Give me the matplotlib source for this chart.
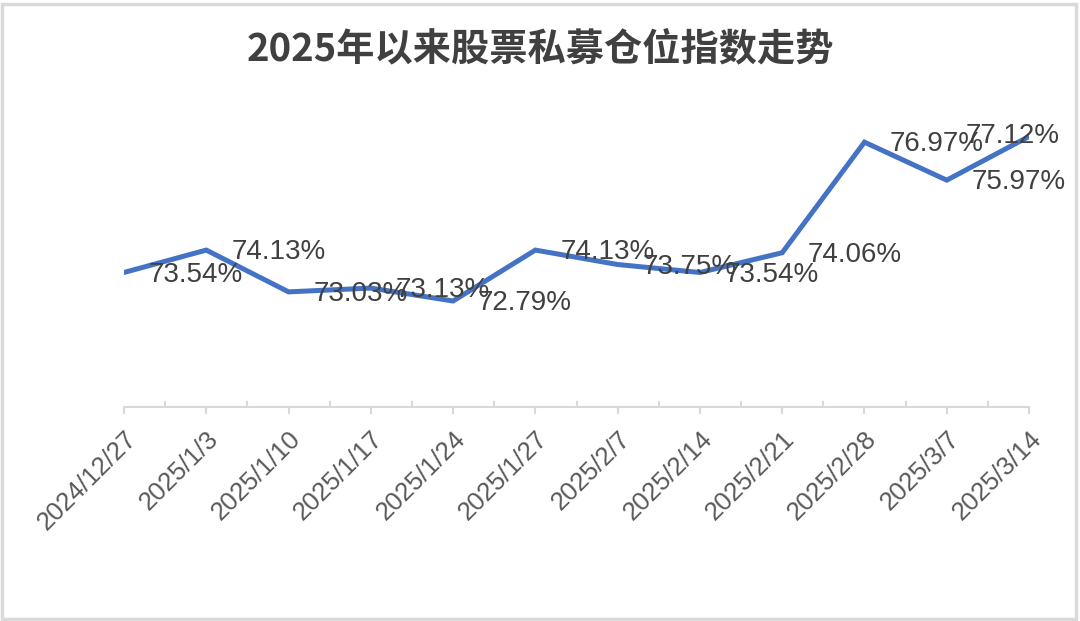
import matplotlib
matplotlib.use("Agg")
import matplotlib.pyplot as plt
from matplotlib.patches import Rectangle
from matplotlib.ticker import FixedLocator

plt.rcParams['font.family'] = ['Liberation Sans', 'Noto Sans CJK SC', 'DejaVu Sans']

dates = ["2024/12/27", "2025/1/3", "2025/1/10", "2025/1/17", "2025/1/24", "2025/1/27",
         "2025/2/7", "2025/2/14", "2025/2/21", "2025/2/28", "2025/3/7", "2025/3/14"]
position = [73.54, 74.13, 73.03, 73.13, 72.79, 74.13, 73.75, 73.54, 74.06, 76.97, 75.97, 77.12]
title = "2025年以来股票私募仓位指数走势"

fig = plt.figure(figsize=(10.8, 6.21), dpi=100)
ax = fig.add_axes([0.1148, 0.3446, 0.8380, 0.4895])

x = list(range(len(dates)))
ax.plot(x, position, color="#4472C4", linewidth=3.6, solid_joinstyle="miter", zorder=3)

ax.set_xlim(0, len(dates) - 1)
ax.set_ylim(70, 78)

for i, v in enumerate(position):
    if i == len(position) - 1:
        ax.annotate(f"{v:.2f}%", (i, v), xytext=(22, 0), textcoords="offset points",
                    ha="right", va="center", fontsize=20, color="#404040", zorder=4)
    else:
        ax.annotate(f"{v:.2f}%", (i, v), xytext=(18, -1.5), textcoords="offset points",
                    ha="left", va="center", fontsize=20, color="#404040", zorder=4)

for s in ["left", "right", "top"]:
    ax.spines[s].set_visible(False)
ax.spines["bottom"].set_color("#D9D9D9")
ax.spines["bottom"].set_linewidth(1.5)
ax.set_yticks([])

ax.set_xticks(x)
ax.set_xticklabels(dates, rotation=45, ha="right", rotation_mode="anchor",
                   fontsize=18.5, color="#595959")
ax.xaxis.set_minor_locator(FixedLocator([i + 0.5 for i in range(len(dates) - 1)]))
ax.tick_params(axis="x", which="major", direction="out", length=5, width=1.5,
               color="#D9D9D9", pad=9)
ax.tick_params(axis="x", which="minor", direction="in", length=4, width=1.5,
               color="#D9D9D9")

fig.text(0.5, 0.922, title, ha="center", va="center", fontsize=27.5, fontweight="bold",
         color="#404040", family=["Noto Sans CJK SC", "DejaVu Sans"])

fig.patches.append(Rectangle((0.002, 0.004), 0.994, 0.99, transform=fig.transFigure,
                             fill=False, edgecolor="#D9D9D9", linewidth=2.5))

fig.savefig("out.png", dpi=100)
